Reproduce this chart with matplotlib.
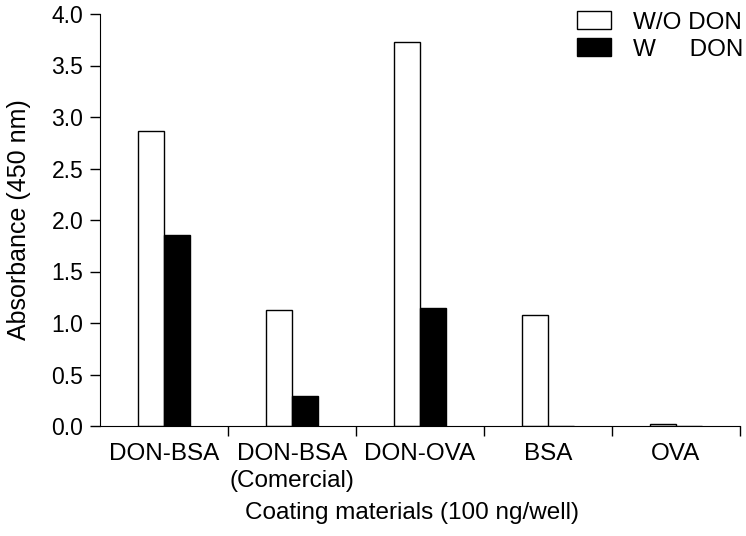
import matplotlib
matplotlib.use("Agg")
import matplotlib.pyplot as plt
import numpy as np

plt.rcParams['font.family'] = ['Liberation Sans', 'DejaVu Sans']

categories = ["DON-BSA", "DON-BSA\n(Comercial)", "DON-OVA", "BSA", "OVA"]
wo_don = [2.86, 1.13, 3.73, 1.08, 0.02]
w_don = [1.85, 0.29, 1.15, 0.0, 0.0]
yticks = [0.0, 0.5, 1.0, 1.5, 2.0, 2.5, 3.0, 3.5, 4.0]

fig = plt.figure(figsize=(7.46, 5.36), dpi=100)
ax = fig.add_axes([100/746, 1-426/536, 640/746, 412/536])

x = np.arange(len(categories))
w = 0.205
ax.bar(x - w/2, wo_don, w, color='white', edgecolor='black', linewidth=1.0, label='W/O DON')
ax.bar(x + w/2, w_don, w, color='black', edgecolor='black', linewidth=1.0, label='W     DON')

ax.set_xlim(-0.5, 4.5)
ax.set_ylim(0, 4.0)
ax.set_yticks(yticks)
ax.set_yticklabels([f"{v:.1f}" for v in yticks], fontsize=16.5)
ax.set_xticks(x)
ax.set_xticklabels(categories, fontsize=17.5, linespacing=1.3)
ax.tick_params(axis='x', length=0, pad=12)
ax.set_xticks(np.arange(0.5, 4.6, 1.0), minor=True)
ax.tick_params(axis='x', which='minor', length=7, width=1)
ax.tick_params(axis='y', length=7, width=1, pad=5)
for s in ['top', 'right']:
    ax.spines[s].set_visible(False)
ax.set_ylabel("Absorbance (450 nm)", fontsize=18, va='center')
ax.yaxis.set_label_coords(-0.127, 0.5)
ax.set_xlabel("Coating materials (100 ng/well)", fontsize=17.5)
ax.xaxis.set_label_coords(0.4875, -0.185)
ax.legend(loc='upper right', bbox_to_anchor=(1.04, 1.06), frameon=False, fontsize=17.5,
          handlelength=1.4, handleheight=0.75, labelspacing=0.2, handletextpad=0.9)

fig.savefig("out.png", dpi=100)
